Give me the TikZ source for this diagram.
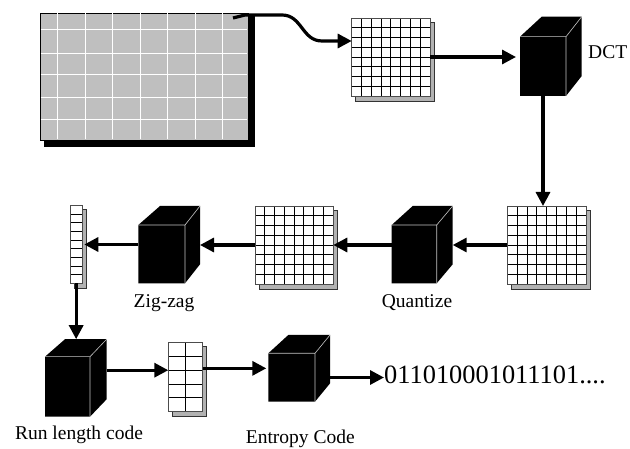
\documentclass[tikz,border=0pt]{standalone}
\usepackage{fontspec}
\setmainfont{Liberation Serif}
\usetikzlibrary{arrows.meta,fit}

\tikzset{
  arr/.style={line width=3.2pt,-{Triangle[length=14pt,width=14pt]}},
  cubeedge/.style={draw=gray!45,line width=0.6pt},
  gridline/.style={draw=black,line width=0.9pt},
  gridshadow/.style={fill=gray!60,draw=black!80,line width=0.6pt},
  lbl/.style={font=\fontsize{19.5}{22}\selectfont,inner sep=0pt},
  box/.style={inner sep=0pt,outer sep=0pt}
}

% solid block drawn in perspective: name, front face x0 y0 x1 y1, left depth, right depth, height of top face
\newcommand\blockcube[8]{%
  \fill[black] (#2,#3) -- (#2+#6,#3-#8) -- (#4+#7,#3-#8) -- (#4+#7,#5-#8)
     -- (#4,#5) -- (#2,#5) -- cycle;
  \draw[cubeedge] (#2,#3) -- (#4,#3) -- (#4,#5) (#4,#3) -- (#4+#7,#3-#8);
  \node[box,fit={(#2,#3) (#4,#5)}] (#1) {};
  \node[box,fit={(#2,#3-#8) (#4+#7,#5)}] (#1all) {};
}

% block of samples with a drop shadow: name, x0 y0 x1 y1, columns, rows
\newcommand\samplegrid[7]{%
  \filldraw[gridshadow] (#2+4,#3+4) rectangle (#4+4,#5+5);
  \fill[white] (#2,#3) rectangle (#4,#5);
  \foreach \i in {0,...,#6}
    \draw[gridline] ({#2+\i*(#4-#2)/#6},#3) -- ({#2+\i*(#4-#2)/#6},#5);
  \foreach \j in {0,...,#7}
    \draw[gridline] (#2,{#3+\j*(#5-#3)/#7}) -- (#4,{#3+\j*(#5-#3)/#7});
  \draw[draw=gray!60!black,line width=0.9pt] (#2,#3) rectangle (#4,#5);
  \node[box,fit={(#2,#3) (#4,#5)}] (#1) {};
}

\begin{document}
\begin{tikzpicture}[x=1pt,y=-1pt]
\useasboundingbox (0,0) rectangle (630,449);

% source image with its shadow and pixel grid
\fill[black] (44,16) rectangle (255,147);
\filldraw[fill=gray!50,draw=black,line width=0.6pt] (40,13) rectangle (248,140);
\foreach \x in {57.7,85.7,112.7,140,167.7,195,222.3}
  \draw[white,line width=1pt] (\x,13.5) -- (\x,139.5);
\foreach \y in {30,53.3,75,97.3,120}
  \draw[white,line width=1pt] (40.5,\y) -- (246.5,\y);
\node[box,fit={(40,13) (248,140)}] (img) {};
\coordinate (cstart) at (233,18);

% 8x8 blocks and processing stages
\samplegrid{grid1}{351.7}{18}{430}{96}{8}{8}
\blockcube{dct}{520}{36.7}{566}{96}{21.7}{15.7}{20}
\samplegrid{grid2}{507.3}{206}{586}{284}{8}{8}
\blockcube{qz}{391.7}{225}{436.7}{283.3}{21}{16}{19}
\samplegrid{grid3}{255}{206}{333.3}{284}{8}{8}
\blockcube{zz}{138.3}{225}{185}{283.3}{21.7}{15}{19}
\samplegrid{col}{70}{205.7}{82.3}{283.3}{1}{9}
\blockcube{rlc}{45}{356.7}{90}{416.7}{20}{16.7}{17.5}
\samplegrid{sg}{168.3}{342.7}{202.7}{411.7}{2}{5}
\blockcube{ent}{268.3}{353.3}{315}{401.7}{20}{15}{18.3}

% labels
\node[lbl,anchor=west] (dctl) at (588,52) {DCT};
\node[lbl,anchor=base] (qzl) at (417,308) {Quantize};
\node[lbl,anchor=base] (zzl) at (164,307.5) {Zig-zag};
\node[lbl,anchor=base] (rlcl) at (79,439.5) {Run length code};
\node[lbl,anchor=base] (entl) at (300.3,443) {Entropy Code};
\node[font=\fontsize{26.4}{30}\selectfont,inner sep=0pt,anchor=base west] (bits)
  at (384,383.3) {011010001011101....};

% connectors
\draw[arr] (cstart) -- (245,15) -- (282,15)
  .. controls (302,15) and (302,41) .. (322,41) -- ([yshift=16pt]grid1.west);
\draw[arr] (grid1.east) -- ([xshift=-4pt]dct.west |- grid1.east);
\draw[arr] (dct.south) -- (dct.south |- grid2.north);
\draw[arr] (grid2.west) -- (qzall.east |- grid2.west);
\draw[arr] (qz.west |- grid3.east) -- (grid3.east);
\draw[arr] (grid3.west) -- (zzall.east |- grid3.west);
\draw[arr] (zz.west |- col.east) -- ([xshift=2pt]col.east);
\draw[arr] (col.south) -- (col.south |- rlcall.north);
\draw[arr] ([yshift=7pt]rlcall.east |- sg.west) -- ([yshift=7pt]sg.west);
\draw[arr] (sg.east |- entall.west) -- ([xshift=-2pt]ent.west |- entall.west);
\draw[arr] (entall.east |- ent.east) -- (bits.west |- ent.east);
\end{tikzpicture}
\end{document}
